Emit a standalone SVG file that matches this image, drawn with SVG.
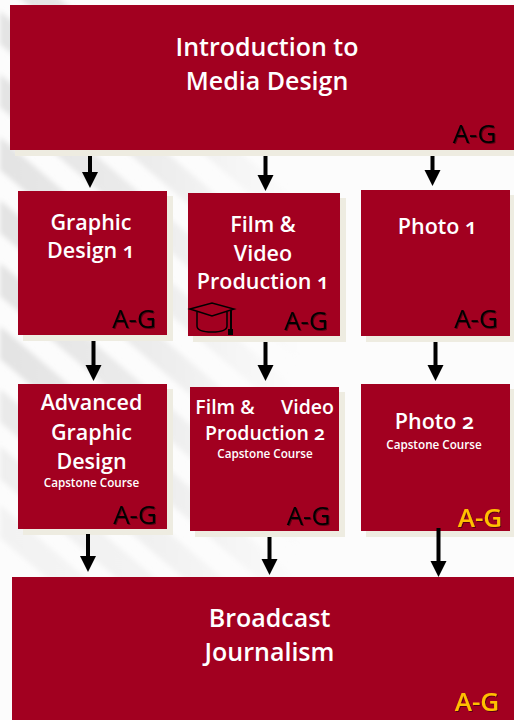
<svg xmlns="http://www.w3.org/2000/svg" width="514" height="720" viewBox="0 0 514 720">
<style>
text{font-family:"Open Sans","Liberation Sans",sans-serif;text-anchor:middle;font-feature-settings:"onum";}
.box{fill:#a20020}
.sh{fill:#eeece1}
.l{fill:#fff;font-size:25px;font-weight:600}
.t{fill:#fff;font-size:21.5px;font-weight:600}
.f{fill:#fff;font-size:19.500px;font-weight:600}
.s{fill:#fff;font-size:11.700px;font-weight:600}
.g{fill:#000;font-size:26px;font-weight:500;filter:url(#ts)}
.y{fill:#ffc000;font-size:26px;font-weight:600;filter:url(#ts)}
.c line{stroke:#000;stroke-width:4}
.c polygon{fill:#000}
.hat{fill:none;stroke:#000;stroke-width:1.500}
</style>
<defs>
<filter id="ts" x="-10%" y="-10%" width="130%" height="130%"><feDropShadow dx="1" dy="1" stdDeviation="0.7" flood-color="#000" flood-opacity="0.45"/></filter>
<filter id="bl" filterUnits="userSpaceOnUse" x="0" y="0" width="514" height="720"><feGaussianBlur stdDeviation="2.500"/></filter>
<linearGradient id="fade" gradientUnits="userSpaceOnUse" x1="0" y1="0" x2="300" y2="0"><stop offset="0" stop-color="#e3e3e3"/><stop offset="0.5" stop-color="#ececec"/><stop offset="1" stop-color="#fcfcfc"/></linearGradient>
</defs>
<rect width="514" height="720" fill="#fcfcfc"/>
<g id="background" filter="url(#bl)" fill="url(#fade)">
<polygon points="0,-52 300,203 300,236 0,-19"/>
<polygon points="0,11 300,266 300,299 0,44"/>
<polygon points="0,74 300,329 300,362 0,107"/>
<polygon points="0,137 300,392 300,425 0,170"/>
<polygon points="0,200 300,455 300,488 0,233"/>
<polygon points="0,263 300,518 300,551 0,296"/>
<polygon points="0,326 300,581 300,614 0,359"/>
<polygon points="0,389 300,644 300,677 0,422" opacity="0.75"/>
<polygon points="0,446 300,701 300,734 0,479" opacity="0.55"/>
<polygon points="0,505 260,726 260,759 0,538" opacity="0.4"/>
</g>
<g id="intro"><rect class="sh" x="15" y="150" width="499" height="6"/><rect class="box" x="10" y="5" width="504" height="145"/>
<text class="l" x="267" y="55.500">Introduction to</text><text class="l" x="267" y="89.500">Media Design</text><text class="g" x="474.500" y="143">A-G</text></g>
<g id="graphic1"><rect class="sh" x="23" y="196" width="150" height="145"/><rect class="box" x="18" y="191" width="149" height="144"/>
<text class="t" x="91" y="229.500">Graphic</text><text class="t" x="91" y="257.500">Design 1</text><text class="g" x="134" y="328">A-G</text></g>
<g id="film1"><rect class="sh" x="193" y="198" width="153" height="144"/><rect class="box" x="188" y="193" width="152" height="143"/>
<text class="t" x="263" y="232">Film &amp;</text><text class="t" x="263" y="261">Video</text><text class="t" x="263" y="289">Production 1</text><text class="g" x="306" y="330">A-G</text>
<g class="hat" id="hat"><polygon points="190,309 212,303 234,309 212,316" fill="#a20020"/><path d="M197,312V326Q197,332 212,332Q227,332 227,326V312"/><path d="M231,310V331" stroke-width="2"/><rect x="228" y="329" width="5" height="6" fill="#000" stroke="none"/></g></g>
<g id="photo1"><rect class="sh" x="366" y="195" width="150" height="147"/><rect class="box" x="361" y="190" width="149" height="146"/>
<text class="t" x="437.500" y="233.500">Photo 1</text><text class="g" x="476" y="328">A-G</text></g>
<g id="advanced"><rect class="sh" x="23" y="389" width="150" height="146"/><rect class="box" x="18" y="384" width="149" height="145"/>
<text class="t" x="91.500" y="410">Advanced</text><text class="t" x="91.500" y="439.500">Graphic</text><text class="t" x="91.500" y="468.500">Design</text><text class="s" x="91.500" y="487">Capstone Course</text><text class="g" x="135" y="524">A-G</text></g>
<g id="film2"><rect class="sh" x="195" y="392" width="150" height="145"/><rect class="box" x="190" y="387" width="149" height="144"/>
<text class="f" x="225" y="413.500">Film &amp;</text><text class="f" x="307.500" y="413.500">Video</text><text class="f" x="265" y="440">Production 2</text><text class="s" x="265" y="458">Capstone Course</text><text class="g" x="308.500" y="525">A-G</text></g>
<g id="photo2"><rect class="sh" x="366" y="389" width="150" height="148"/><rect class="box" x="361" y="384" width="149" height="147"/>
<text class="t" x="434.500" y="429">Photo 2</text><text class="s" x="434" y="448.500">Capstone Course</text><text class="y" x="480" y="527">A-G</text></g>
<g id="broadcast"><rect class="box" x="12" y="577" width="502" height="143"/>
<text class="l" x="269.500" y="627">Broadcast</text><text class="l" x="269.500" y="661">Journalism</text><text class="y" x="477" y="711">A-G</text></g>
<g id="connectors" class="c">
<line x1="90" y1="156" x2="90" y2="174"/><polygon points="82,172 98,172 90,188"/>
<line x1="265.500" y1="156" x2="265.500" y2="177"/><polygon points="257.500,175 273.500,175 265.500,191"/>
<line x1="432.500" y1="156" x2="432.500" y2="172"/><polygon points="424.500,170 440.500,170 432.500,186"/>
<line x1="93.500" y1="341" x2="93.500" y2="367"/><polygon points="85.500,365 101.500,365 93.500,381"/>
<line x1="265.500" y1="342" x2="265.500" y2="367"/><polygon points="257.500,365 273.500,365 265.500,381"/>
<line x1="435.500" y1="342" x2="435.500" y2="367"/><polygon points="427.500,365 443.500,365 435.500,381"/>
<line x1="88" y1="534" x2="88" y2="558"/><polygon points="80,556 96,556 88,572"/>
<line x1="269.500" y1="537" x2="269.500" y2="561"/><polygon points="261.500,559 277.500,559 269.500,575"/>
<line x1="438.500" y1="528" x2="438.500" y2="563"/><polygon points="430.500,561 446.500,561 438.500,577"/>
</g>
</svg>
